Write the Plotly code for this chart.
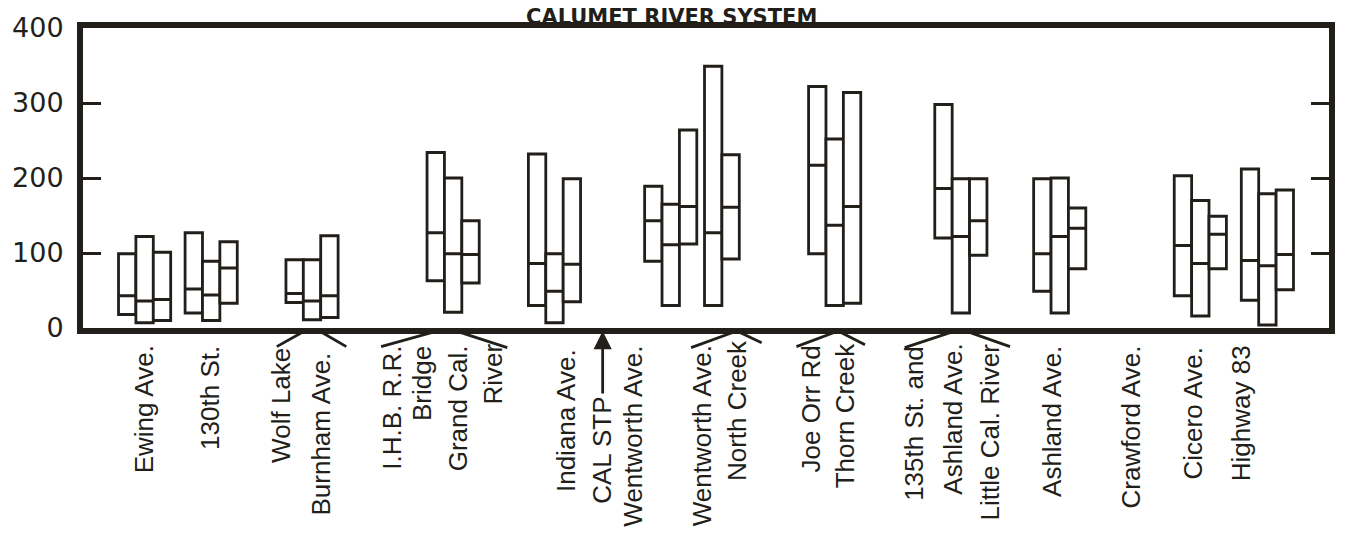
import plotly.graph_objects as go

# Sampling stations along the Calumet River system, upstream order left to right
stations = [
    "Ewing Ave.", "130th St.", "Wolf Lake / Burnham Ave.",
    "I.H.B. R.R. Bridge / Grand Cal. River", "Indiana Ave.", "Wentworth Ave.",
    "Wentworth Ave. / North Creek", "Joe Orr Rd / Thorn Creek",
    "135th St. and Ashland Ave. / Little Cal. River", "Ashland Ave.",
    "Crawford Ave.", "Cicero Ave.", "Highway 83",
]
station_x = [62, 129, 230.5, 372.5, 474.5, 591.5, 643, 756.5, 883.5, 983, 1055, 1124.5, 1192]

# Range of values at each station, one entry per sampling period
low = [
    [18, 7, 10], [20, 10, 33], [34, 11, 14], [63, 21, 60], [30, 7, 35],
    [89, 30, 112], [30, 92], [99, 30, 33], [120, 20, 97], [49, 20, 79],
    [], [43, 16, 79], [37, 4, 51],
]
median = [
    [43, 36, 38], [52, 44, 80], [46, 36, 43], [127, 99, 98], [86, 49, 85],
    [143, 111, 162], [127, 161], [217, 137, 162], [186, 122, 143], [99, 122, 133],
    [], [110, 86, 125], [90, 83, 98],
]
high = [
    [99, 122, 101], [127, 89, 115], [91, 91, 123], [234, 200, 143], [232, 99, 199],
    [189, 165, 264], [349, 231], [322, 252, 314], [298, 199, 199], [199, 200, 160],
    [], [203, 170, 149], [212, 179, 184],
]

y_ticks = [0, 100, 200, 300, 400]

INK = "#221e1a"
BOX_W = 17.5
W, H = 1347, 539
M_L, M_R, M_T, M_B = 80, 13, 22, 211
PLOT_H = H - M_T - M_B


def py(ypx):
    """Pixel row below the top of the page -> paper coordinate."""
    return (H - M_B - ypx) / PLOT_H


# Boxes of one station sit side by side, centred on the station
bx, blo, bmed, bhi = [], [], [], []
for sx, lo, md, hi in zip(station_x, low, median, high):
    n = len(lo)
    for i in range(n):
        bx.append(sx + (i - (n - 1) / 2) * BOX_W)
        blo.append(lo[i])
        bmed.append(md[i])
        bhi.append(hi[i])

fig = go.Figure()
fig.add_trace(go.Box(
    x=bx, q1=blo, median=bmed, q3=bhi, lowerfence=blo, upperfence=bhi,
    width=BOX_W, whiskerwidth=0, boxpoints=False,
    fillcolor="white", line=dict(color=INK, width=2.8),
    hoverinfo="skip", showlegend=False,
))

# Station labels, written upward beneath the axis
label_cols = [
    ("Ewing Ave.", 61, 344), ("130th St.", 127, 344),
    ("Wolf Lake", 199, 346), ("Burnham Ave.", 240, 351),
    ("I.H.B. R.R.", 311, 344), ("Bridge", 341, 344),
    ("Grand Cal.", 377, 344), ("River", 413, 342),
    ("Indiana Ave.", 486, 347), ("CAL STP", 523, 396),
    ("Wentworth Ave.", 554, 344),
    ("Wentworth Ave.", 623, 344), ("North Creek", 659, 338),
    ("Joe Orr Rd", 733, 344), ("Thorn Creek", 767, 342),
    ("135th St. and", 837, 344), ("Ashland Ave.", 876, 342),
    ("Little Cal. River", 913, 342),
    ("Ashland Ave.", 975, 344), ("Crawford Ave.", 1055, 344),
    ("Cicero Ave.", 1117, 346), ("Highway 83", 1165, 344),
]
annotations = []
for text, x, top in label_cols:
    annotations.append(dict(
        text=text, x=x, xref="x", y=py(top), yref="paper",
        xanchor="center", yanchor="top", textangle=-90, showarrow=False,
        font=dict(family="Liberation Sans", size=26, color=INK),
    ))

# Arrow for the treatment plant outfall
annotations.append(dict(
    text="", x=523, xref="x", y=py(331), yref="paper",
    ax=0, ay=64, axref="pixel", ayref="pixel",
    showarrow=True, arrowhead=2, arrowsize=1.3, arrowwidth=2.8, arrowcolor=INK,
))

# Title, above the frame
annotations.append(dict(
    text="<b>CALUMET RIVER SYSTEM</b>", x=592, xref="x", y=1, yref="paper",
    xanchor="center", yanchor="bottom", yshift=-3, showarrow=False,
    font=dict(family="DejaVu Sans", size=21, color=INK),
))

# Brackets tying paired labels to their station
brackets = [
    [(195, 347), (223, 331)], [(238, 331), (265, 347)],
    [(300, 347), (357, 331)], [(375, 331), (427, 348)],
    [(612, 348), (658, 331)], [(658, 331), (683, 343)],
    [(718, 347), (760, 331)], [(760, 331), (787, 345)],
    [(827, 348), (878, 331)], [(888, 331), (933, 347)],
]
shapes = []
for (x0, y0), (x1, y1) in brackets:
    shapes.append(dict(
        type="line", xref="x", yref="paper",
        x0=x0, y0=py(y0), x1=x1, y1=py(y1),
        line=dict(color=INK, width=2.8),
    ))

fig.update_layout(
    width=W, height=H,
    margin=dict(l=M_L, r=M_R, t=M_T, b=M_B, pad=0),
    paper_bgcolor="white", plot_bgcolor="white",
    boxmode="overlay",
    annotations=annotations, shapes=shapes,
    xaxis=dict(
        range=[0, W - M_L - M_R], showgrid=False, zeroline=False,
        showticklabels=False, ticks="", showline=True, mirror=True,
        linecolor=INK, linewidth=6,
    ),
    yaxis=dict(
        range=[0, 400], tickvals=y_ticks, ticktext=[str(v) for v in y_ticks],
        showgrid=False, zeroline=False, showline=True, mirror="ticks",
        linecolor=INK, linewidth=6, ticks="inside", ticklen=18, tickwidth=3,
        tickcolor=INK, ticklabelstandoff=8,
        tickfont=dict(family="DejaVu Sans", size=27, color=INK),
    ),
)

fig.write_html("out.html")
